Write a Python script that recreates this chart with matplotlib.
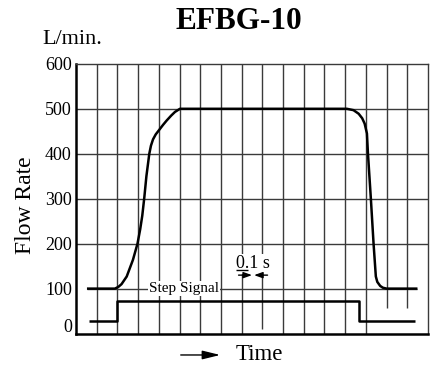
"""EFBG-10 step response: flow rate vs time with the step signal."""
import matplotlib
matplotlib.use("Agg")
import matplotlib.pyplot as plt
import matplotlib.transforms as mtransforms

plt.rcParams["font.family"] = ["Liberation Serif", "DejaVu Serif"]

# time in grid divisions (1 division = 0.1 s)
flow_t = [0.53, 1.88, 2.05, 2.2, 2.45, 2.75, 2.97, 3.1, 3.2, 3.3, 3.4, 3.54, 3.62, 3.72, 3.85,
          4.0, 4.2, 4.38, 4.6, 4.78, 5.02,
          13.08, 13.4, 13.65, 13.82, 13.94, 14.05, 14.1, 14.24, 14.37, 14.48, 14.55, 14.69,
          14.82, 15.0, 16.49]
flow_q = [100, 100, 104, 110, 127, 164, 200, 232, 262, 303, 350, 400, 418, 432, 443,
          452, 464, 474, 485, 493, 500,
          500, 497, 489, 479, 467, 445, 400, 300, 200, 127, 115, 106,
          102, 100, 100]
step_t = [0.63, 2.0, 2.0, 13.67, 13.67, 16.38]
step_q = [28, 28, 73, 73, 28, 28]
grid_x = list(range(1, 17))
grid_y0 = [0, 0, 0, 0, 0, 0, 0, 0, 10, 0, 0, 0, 0, 0, 57, 57]
hgrid_y = [200, 300, 400, 500]
yticks = [0, 100, 200, 300, 400, 500, 600]

fig = plt.figure(figsize=(4.33, 3.69), dpi=100)
ax = fig.add_axes([0.1755, 0.096, 0.813, 0.731])
ax.set_xlim(0, 17)
ax.set_ylim(0, 600)

gc = "#3a3a3a"
ax.vlines(grid_x, grid_y0, 600, color=gc, lw=1.0, zorder=1)
ax.hlines(hgrid_y, 0, 17, color=gc, lw=1.0, zorder=1)
ax.hlines(100, flow_t[0], flow_t[-1], color=gc, lw=1.0, zorder=1)

ax.plot(flow_t, flow_q, color="black", lw=1.8, zorder=3, solid_capstyle="butt",
        solid_joinstyle="round")
ax.plot(step_t, step_q, color="black", lw=1.8, zorder=3, solid_capstyle="butt")

ax.text(5.22, 100, "Step Signal", fontsize=11, ha="center", va="center", zorder=4,
        bbox=dict(boxstyle="square,pad=0.05", fc="white", ec="none"))
ax.text(8.55, 155, "0.1 s", fontsize=13, ha="center", va="center",
        zorder=4, bbox=dict(boxstyle="square,pad=0.1", fc="white", ec="none"))
ax.hlines(141, 7.75, 8.32, color="black", lw=1.0, zorder=5)   # underline of "0.1"
arrow = dict(arrowstyle="-|>,head_length=0.5,head_width=0.18", color="black", lw=1.0,
             shrinkA=0, shrinkB=0)
ax.annotate("", xy=(8.5, 130), xytext=(7.85, 130), arrowprops=arrow, zorder=4)
ax.annotate("", xy=(8.6, 130), xytext=(9.25, 130), arrowprops=arrow, zorder=4)

ax.set_xticks([])
ax.set_yticks(yticks)
ax.set_yticklabels([str(v) for v in yticks])
ax.tick_params(axis="y", length=0, pad=3, labelsize=13)
# raise the "0" label a bit as in the reference
lbl = ax.get_yticklabels()[0]
lbl.set_transform(lbl.get_transform() + mtransforms.ScaledTranslation(0, 6 / 72, fig.dpi_scale_trans))

for side in ("left", "bottom"):
    ax.spines[side].set_linewidth(1.8)
for side in ("top", "right"):
    ax.spines[side].set_linewidth(1.0)
    ax.spines[side].set_color(gc)

fig.text(0.552, 0.943, "EFBG-10", fontsize=22.5, fontweight="bold", ha="center", va="center")
fig.text(0.097, 0.892, "L/min.", fontsize=16, ha="left", va="center")
fig.text(0.058, 0.444, "Flow Rate", fontsize=17, rotation=90, ha="center", va="center")
fig.text(0.545, 0.038, "Time", fontsize=16.5, ha="left", va="center")
fig.add_artist(matplotlib.patches.FancyArrowPatch(
    (0.411, 0.038), (0.515, 0.038), transform=fig.transFigure,
    arrowstyle="-|>,head_length=0.9,head_width=0.22", color="black", lw=1.0,
    mutation_scale=12))

fig.savefig("out.png", dpi=100)
